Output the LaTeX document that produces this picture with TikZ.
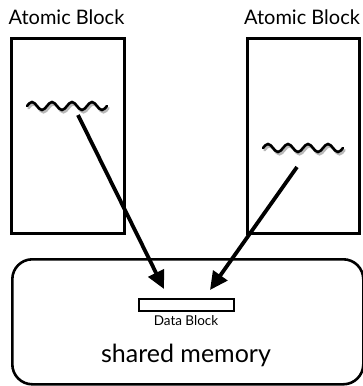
\documentclass[tikz,border=0pt]{standalone}
\usepackage{fontspec}
\setmainfont{Lato}
\usetikzlibrary{arrows.meta}
\begin{document}
\begin{tikzpicture}[x=1pt,y=-1pt,
  blockbox/.style={draw,line width=2.6pt,minimum width=113pt,minimum height=195pt,inner sep=0pt,anchor=north west},
  lbl/.style={font=\fontsize{20}{22}\selectfont,inner sep=0pt},
  arr/.style={line width=3.8pt,-{Triangle[length=18pt,width=17pt]}},
  wave/.style={line width=2.6pt,line cap=round}]
\useasboundingbox (0,0) rectangle (363,386);
\node[blockbox] (bl) at (10,37) {};
\node[blockbox,minimum width=112pt] (br) at (246,37) {};
\node[lbl] (tl) at (66.5,17) {Atomic Block};
\node[lbl] (tr) at (302,17) {Atomic Block};
\node[draw,line width=2.6pt,rounded corners=20pt,minimum width=351pt,minimum height=125pt,inner sep=0pt,anchor=north west] (mem) at (11,258) {};
\node[draw,line width=2.2pt,minimum width=95pt,minimum height=12pt,inner sep=0pt,anchor=north west] (db) at (138,298) {};
\node[font=\fontsize{13.5}{15}\selectfont,inner sep=0pt] (dbl) at (186,321) {Data Block};
\node[font=\fontsize{25}{28}\selectfont,inner sep=0pt] (sm) at (186,355) {shared memory};
% squiggles
\foreach \xx/\yy [count=\i] in {27/106,263/148}{
  \draw[wave,gray!55] (\xx+1.5,\yy+2.2) sin ++(5,-4) cos ++(5,4) sin ++(5,4) cos ++(5,-4) sin ++(5,-4) cos ++(5,4) sin ++(5,4) cos ++(5,-4) sin ++(5,-4) cos ++(5,4) sin ++(5,4) cos ++(5,-4) sin ++(5,-4) cos ++(5,4) sin ++(5,4) cos ++(5,-4);
  \draw[wave,black] (\xx,\yy) sin ++(5,-4) cos ++(5,4) sin ++(5,4) cos ++(5,-4) sin ++(5,-4) cos ++(5,4) sin ++(5,4) cos ++(5,-4) sin ++(5,-4) cos ++(5,4) sin ++(5,4) cos ++(5,-4) sin ++(5,-4) cos ++(5,4) sin ++(5,4) cos ++(5,-4);
}
\coordinate (s1) at (78,115);
\coordinate (s2) at (297,167);
\coordinate (e1) at (164,289);
\coordinate (e2) at (210,290);
\draw[arr] (s1) -- (e1);
\draw[arr] (s2) -- (e2);
\end{tikzpicture}
\end{document}
